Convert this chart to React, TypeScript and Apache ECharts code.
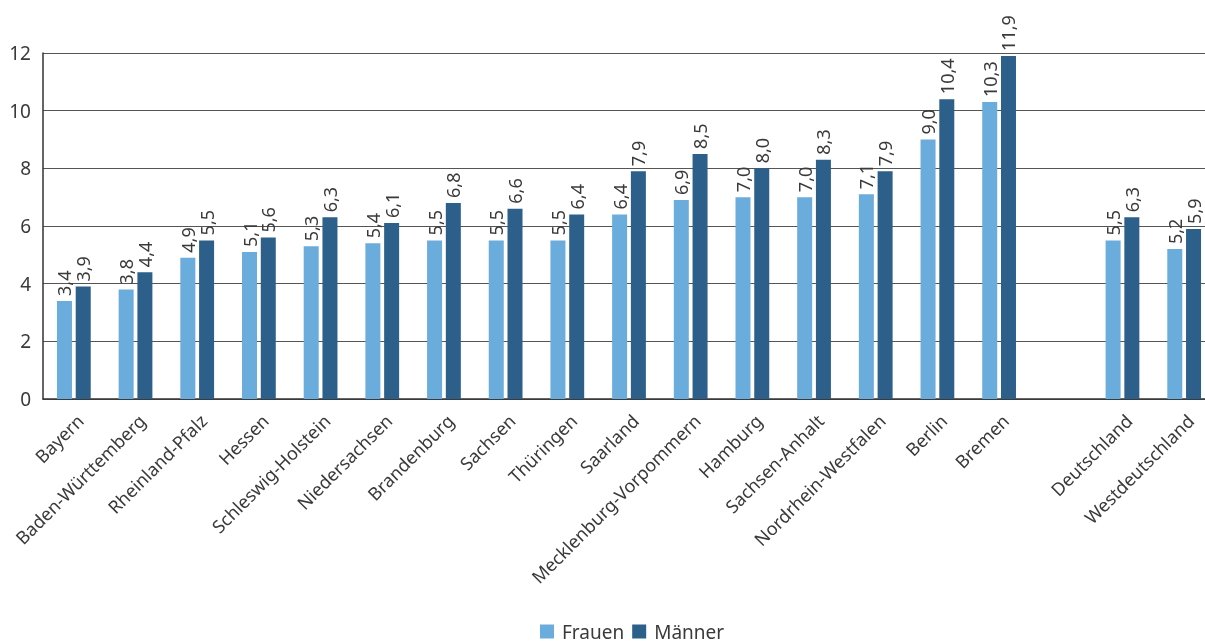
import React, { useEffect, useRef } from "react";
import * as echarts from "echarts";

const categories = [
  "Bayern", "Baden-Württemberg", "Rheinland-Pfalz", "Hessen", "Schleswig-Holstein",
  "Niedersachsen", "Brandenburg", "Sachsen", "Thüringen", "Saarland",
  "Mecklenburg-Vorpommern", "Hamburg", "Sachsen-Anhalt", "Nordrhein-Westfalen",
  "Berlin", "Bremen", "", "Deutschland", "Westdeutschland",
];
const frauen: (number | string)[] = [3.4, 3.8, 4.9, 5.1, 5.3, 5.4, 5.5, 5.5, 5.5, 6.4, 6.9, 7.0, 7.0, 7.1, 9.0, 10.3, "-", 5.5, 5.2];
const maenner: (number | string)[] = [3.9, 4.4, 5.5, 5.6, 6.3, 6.1, 6.8, 6.6, 6.4, 7.9, 8.5, 8.0, 8.3, 7.9, 10.4, 11.9, "-", 6.3, 5.9];

const FONT = "Noto Sans";

export default function App() {
  const ref = useRef<HTMLDivElement>(null);
  useEffect(() => {
    if (!ref.current) return;
    const chart = echarts.init(ref.current, undefined, { renderer: "svg" });
    const label = {
      show: true,
      position: "top" as const,
      rotate: 90,
      align: "left" as const,
      verticalAlign: "middle" as const,
      distance: 5,
      color: "#3a3a3a",
      fontSize: 18,
      fontFamily: FONT,
      formatter: (p: any) => Number(p.value).toFixed(1).replace(".", ","),
    };
    chart.setOption({
      animation: false,
      textStyle: { fontFamily: FONT },
      grid: { left: 43, right: 0, top: 53, bottom: 244, containLabel: false },
      legend: {
        left: 540,
        top: 622,
        padding: 0,
        itemWidth: 14,
        itemHeight: 14,
        itemGap: 8,
        textStyle: {
          fontSize: 19,
          lineHeight: 16,
          color: "#3a3a3a",
          fontFamily: FONT,
          padding: [0, 0, 0, 3],
        },
        data: [
          { name: "Frauen", icon: "rect" },
          { name: "Männer", icon: "rect" },
        ],
      },
      xAxis: {
        type: "category",
        data: categories,
        axisLine: { show: true, lineStyle: { color: "#333", width: 1.5 } },
        axisTick: { show: false },
        axisLabel: {
          interval: 0,
          rotate: 45,
          margin: 12,
          fontSize: 18,
          color: "#3a3a3a",
          fontFamily: FONT,
          verticalAlign: "top",
        },
      },
      yAxis: {
        type: "value",
        min: 0,
        max: 12,
        interval: 2,
        axisLine: { show: true, lineStyle: { color: "#333", width: 1.5 } },
        axisTick: { show: false },
        axisLabel: {
          fontSize: 19,
          color: "#3a3a3a",
          margin: 12,
          fontFamily: FONT,
          padding: [0, 0, 7, 0],
        },
        splitLine: { show: true, lineStyle: { color: "#555", width: 1.2 } },
      },
      series: [
        {
          name: "Frauen",
          type: "bar",
          data: frauen,
          barWidth: 15,
          barGap: "25%",
          itemStyle: { color: "#6aacdc" },
          label,
        },
        {
          name: "Männer",
          type: "bar",
          data: maenner,
          barWidth: 15,
          itemStyle: { color: "#2c5f8a" },
          label,
        },
      ],
    });
    return () => chart.dispose();
  }, []);
  return (
    <div
      ref={ref}
      style={{ position: "fixed", left: 0, top: 0, width: 1215, height: 643 }}
    />
  );
}
